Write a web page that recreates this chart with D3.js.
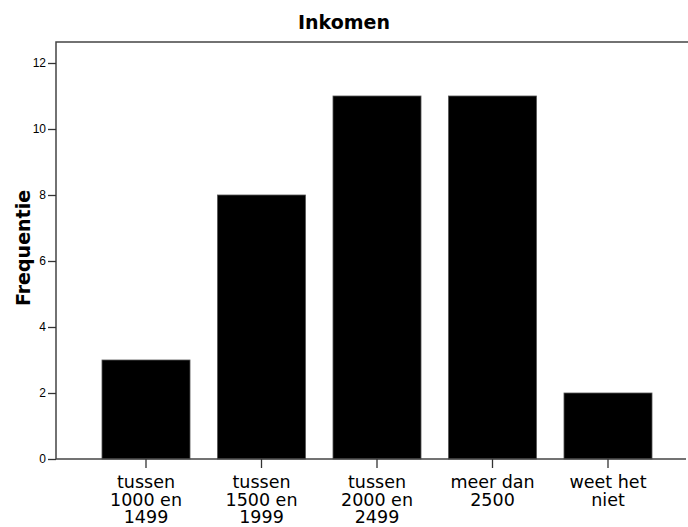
<!DOCTYPE html>
<html>
<head>
<meta charset="utf-8">
<script src="https://cdn.jsdelivr.net/npm/d3@7"></script>
<style>
  body { margin: 0; background: #fff; }
</style>
</head>
<body>
<div id="chart"></div>
<script>
// data
const categories = [
  ["tussen", "1000 en", "1499"],
  ["tussen", "1500 en", "1999"],
  ["tussen", "2000 en", "2499"],
  ["meer dan", "2500"],
  ["weet het", "niet"]
];
const frequencies = [3, 8, 11, 11, 2];
const yTicks = [0, 2, 4, 6, 8, 10, 12];

const width = 688, height = 527;
const plot = {left: 56, right: 688, top: 42, bottom: 459};

const svg = d3.select("#chart").append("svg")
  .attr("width", width)
  .attr("height", height);

// band positions, bars ~76% of the step
const x = d3.scaleBand()
  .domain(d3.range(categories.length))
  .range([88.25, 665.75])
  .paddingInner(0.238)
  .paddingOuter(0.119);

const y = d3.scaleLinear().domain([0, 12]).range([plot.bottom, 63]);

// frame (top + left), right edge falls off the page
svg.append("path")
  .attr("d", `M${plot.left},${plot.bottom}V${plot.top}H${plot.right}`)
  .attr("fill", "none")
  .attr("stroke", "#444")
  .attr("stroke-width", 1.5);

// bars
svg.append("g")
  .selectAll("rect")
  .data(frequencies)
  .join("rect")
    .attr("x", (d, i) => x(i))
    .attr("y", d => y(d))
    .attr("width", x.bandwidth())
    .attr("height", d => y(0) - y(d))
    .attr("fill", "#000")
    .attr("stroke", "#555")
    .attr("stroke-width", 0.8);

// y axis
const yAxis = svg.append("g")
  .attr("transform", `translate(${plot.left},0)`)
  .call(d3.axisLeft(y).tickValues(yTicks).tickSize(8).tickPadding(2).tickSizeOuter(0));
yAxis.select(".domain").remove();
yAxis.selectAll(".tick line").attr("stroke", "#333").attr("stroke-width", 1.3);
yAxis.selectAll(".tick text")
  .attr("font-family", "Liberation Sans, Arial, sans-serif")
  .attr("font-size", 12)
  .attr("fill", "#000");

// x axis
const xAxis = svg.append("g")
  .attr("transform", `translate(0,${plot.bottom})`);
xAxis.append("line")
  .attr("x1", plot.left).attr("x2", 686)
  .attr("stroke", "#444").attr("stroke-width", 1.5);
const xt = xAxis.selectAll(".xtick")
  .data(categories)
  .join("g")
    .attr("class", "xtick")
    .attr("transform", (d, i) => `translate(${x(i) + x.bandwidth() / 2},0)`);
xt.append("line").attr("y2", 9).attr("stroke", "#333").attr("stroke-width", 1.3);
xt.append("text")
  .attr("text-anchor", "middle")
  .attr("font-family", "DejaVu Sans, Verdana, sans-serif")
  .attr("font-size", 17.5)
  .attr("fill", "#000")
  .selectAll("tspan")
  .data(d => d)
  .join("tspan")
    .attr("x", 0)
    .attr("y", (d, i) => 29 + i * 17.6)
    .text(d => d);

// title
svg.append("text")
  .attr("x", 344)
  .attr("y", 29)
  .attr("text-anchor", "middle")
  .attr("font-family", "DejaVu Sans, Verdana, sans-serif")
  .attr("font-weight", "bold")
  .attr("font-size", 19)
  .text("Inkomen");

// y label
svg.append("text")
  .attr("transform", "translate(30,248) rotate(-90)")
  .attr("text-anchor", "middle")
  .attr("font-family", "DejaVu Sans, Verdana, sans-serif")
  .attr("font-weight", "bold")
  .attr("font-size", 19)
  .text("Frequentie");
</script>
</body>
</html>
